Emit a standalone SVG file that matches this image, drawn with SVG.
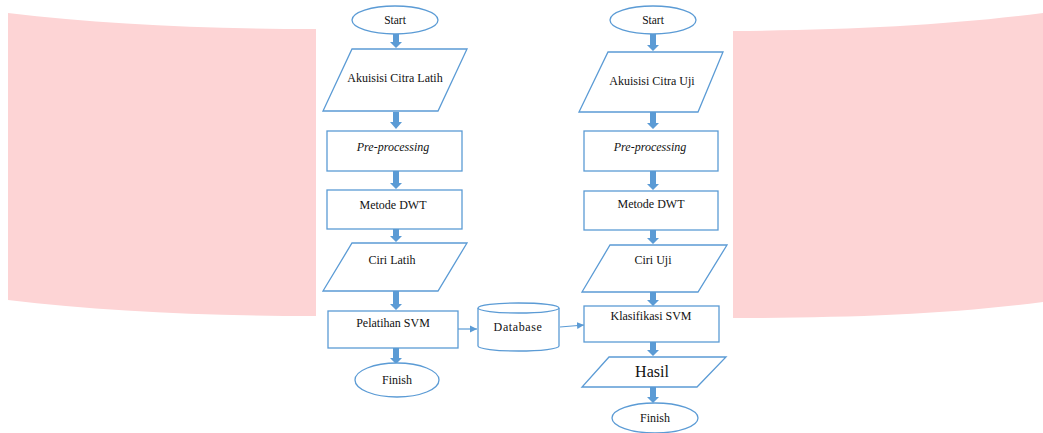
<svg xmlns="http://www.w3.org/2000/svg" width="1043" height="433" viewBox="0 0 1043 433">
<defs>
<style>
.s{fill:#fff;stroke:#5b9bd5;stroke-width:1.3}
text{font-family:"Liberation Serif","Times New Roman",Tinos,"Noto Serif","DejaVu Serif",Times,serif;font-size:12px;fill:#111;text-anchor:middle}
.i{font-style:italic}
.ba{fill:#5b9bd5}
.ln{fill:none;stroke:#5b9bd5;stroke-width:1.2}
</style>
<marker id="ah" markerWidth="8" markerHeight="8" refX="7" refY="4" orient="auto" markerUnits="userSpaceOnUse">
<path d="M0,0.5 L7,4 L0,7.5 Z" fill="#5b9bd5"/>
</marker>
</defs>
<rect width="1043" height="433" fill="#fff"/>
<g id="bg">
<path d="M8,13 C100,24 200,29 316,29 L316,316 C200,316 100,311 8,300 Z" fill="#fdd4d5"/>
<path d="M733,31 C850,30 950,25 1043,13 L1043,302 C950,314 850,318 733,318 Z" fill="#fdd4d5"/>
</g>
<g id="connectors">
<path class="ba" d="M393,34 H399 V42 H402 L396,48 L390,42 H393 Z"/>
<path class="ba" d="M393,112 H399 V122 H402 L396,129 L390,122 H393 Z"/>
<path class="ba" d="M393,171 H399 V183 H402 L396,189 L390,183 H393 Z"/>
<path class="ba" d="M393,229 H399 V236 H402 L396,242 L390,236 H393 Z"/>
<path class="ba" d="M393,291 H399 V304 H402 L396,310 L390,304 H393 Z"/>
<path class="ba" d="M393,348 H399 V358 H402 L396,364 L390,358 H393 Z"/>
<path class="ba" d="M650,34 H656 V45 H659 L653,51 L647,45 H650 Z"/>
<path class="ba" d="M650,112 H656 V123 H659 L653,129 L647,123 H650 Z"/>
<path class="ba" d="M650,171 H656 V184 H659 L653,190 L647,184 H650 Z"/>
<path class="ba" d="M650,230 H656 V238 H659 L653,244 L647,238 H650 Z"/>
<path class="ba" d="M650,292 H656 V300 H659 L653,306 L647,300 H650 Z"/>
<path class="ba" d="M650,342 H656 V350 H659 L653,356 L647,350 H650 Z"/>
<path class="ba" d="M650,387 H656 V397 H659 L653,403 L647,397 H650 Z"/>
<path class="ln" d="M458,329 H477" marker-end="url(#ah)"/>
<path class="ln" d="M560,327 L572,326 L584,325" marker-end="url(#ah)"/>
</g>
<g id="start1"><ellipse class="s" cx="395" cy="20" rx="43" ry="14"/><text x="395" y="24" style="font-size:11.5px">Start</text></g>
<g id="akuisisi_latih"><polygon class="s" points="352,49 467,49 438,111 323,111"/><text x="395" y="82">Akuisisi Citra Latih</text></g>
<g id="pre1"><rect class="s" x="327" y="131" width="135" height="40"/><text class="i" x="393" y="151">Pre-processing</text></g>
<g id="dwt1"><rect class="s" x="327" y="190" width="135" height="39"/><text x="393" y="209">Metode DWT</text></g>
<g id="ciri_latih"><polygon class="s" points="352,243 467,243 438,291 323,291"/><text x="392" y="264">Ciri Latih</text></g>
<g id="pelatihan"><rect class="s" x="328" y="311" width="130" height="37"/><text x="393" y="327">Pelatihan SVM</text></g>
<g id="finish1"><ellipse class="s" cx="397" cy="380" rx="42" ry="17"/><text x="397" y="384">Finish</text></g>
<g id="database">
<path class="s" d="M478,308 V346 A40.5,5 0 0 0 559,346 V308"/>
<ellipse class="s" cx="518.5" cy="308" rx="40.5" ry="5"/>
<text x="518" y="331" letter-spacing="0.6">Database</text>
</g>
<g id="start2"><ellipse class="s" cx="653" cy="20" rx="43" ry="14"/><text x="653" y="24" style="font-size:11.5px">Start</text></g>
<g id="akuisisi_uji"><polygon class="s" points="608,52 723,52 698,112 579,112"/><text x="652" y="85">Akuisisi Citra Uji</text></g>
<g id="pre2"><rect class="s" x="584" y="131" width="134" height="40"/><text class="i" x="650" y="151">Pre-processing</text></g>
<g id="dwt2"><rect class="s" x="584" y="191" width="134" height="39"/><text x="651" y="208">Metode DWT</text></g>
<g id="ciri_uji"><polygon class="s" points="610,245 727,245 698,292 582,292"/><text x="653" y="264">Ciri Uji</text></g>
<g id="klasifikasi"><rect class="s" x="584" y="306" width="135" height="36"/><text x="651" y="320">Klasifikasi SVM</text></g>
<g id="hasil"><polygon class="s" points="609,357 726,357 697,387 582,387"/><text x="652" y="377" style="font-size:16px">Hasil</text></g>
<g id="finish2"><ellipse class="s" cx="655" cy="418" rx="43" ry="15"/><text x="655" y="422">Finish</text></g>
</svg>
